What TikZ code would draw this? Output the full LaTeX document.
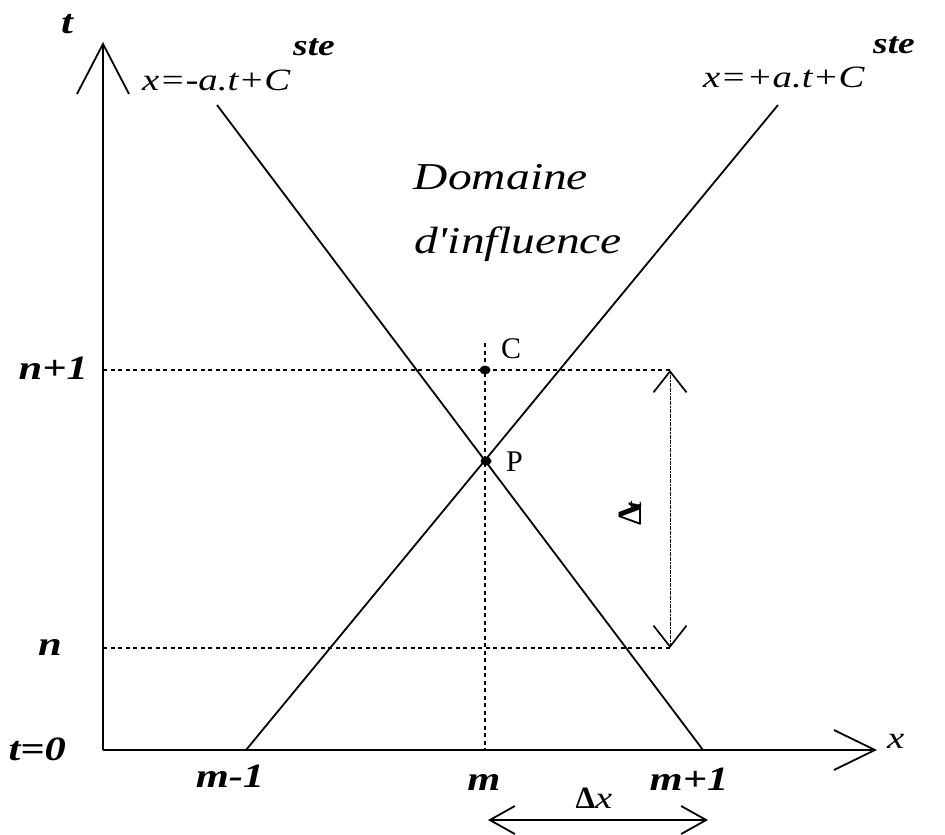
\documentclass[tikz,border=0pt]{standalone}
\usepackage{fontspec}
\setmainfont{Liberation Serif}
\newfontfamily\wideserif[FakeStretch=1.25]{Liberation Serif}
\usetikzlibrary{arrows.meta,shapes.geometric}
\tikzset{
  axisline/.style={line width=1.8pt},
  charline/.style={line width=1.8pt},
  dotline/.style={line width=1.3pt, dash pattern=on 4pt off 3.5pt},
  dimline/.style={line width=1pt, dash pattern=on 2pt off 0.6pt},
  lbl/.style={inner sep=0pt, font=\wideserif\fontsize{34}{38}\selectfont\bfseries\itshape},
  eqlbl/.style={inner sep=0pt, font=\wideserif\fontsize{31}{36}\selectfont\itshape},
  suplbl/.style={inner sep=0pt, font=\wideserif\fontsize{30}{34}\selectfont\bfseries\itshape},
  domlbl/.style={inner sep=0pt, font=\wideserif\fontsize{38}{42}\selectfont\itshape},
  ptlbl/.style={inner sep=0pt, font=\fontsize{30}{33}\selectfont},
  dot/.style={ellipse, fill=black, inner sep=0pt, minimum width=11pt, minimum height=9pt}
}
\begin{document}
\begin{tikzpicture}[x=1pt,y=-1pt]
\useasboundingbox (0,0) rectangle (945,835);
% axes
\coordinate (O) at (103,750);
\coordinate (ytop) at (103,42);
\coordinate (xend) at (877,750);
\draw[axisline, -{Straight Barb[length=50pt,width=52pt,line width=1.8pt]}] (O) -- (ytop);
\draw[axisline, -{Straight Barb[length=41pt,width=40pt,line width=1.8pt]}] (O) -- (xend);
% characteristic lines
\coordinate (dtop) at (217,105);
\coordinate (dbot) at (703,750);
\coordinate (atop) at (778,105);
\coordinate (abot) at (246,750);
\draw[charline] (dtop) -- (dbot);
\draw[charline] (abot) -- (atop);
% dotted guides
\coordinate (ya) at (103,370);
\coordinate (yb) at (103,648);
\coordinate (ra) at (670,370);
\coordinate (rb) at (670,648);
\coordinate (vtop) at (485,343);
\coordinate (vbot) at (485,750);
\draw[dotline] (ya) -- (ra);
\draw[dotline] (yb) -- (rb);
\draw[dotline] (vtop) -- (vbot);
% points
\node[dot] (C) at (485,370) {};
\node[dot] (P) at (486,461) {};
\node[ptlbl, anchor=base west] (Clbl) at (501,358) {C};
\node[ptlbl, anchor=base west] (Plbl) at (506,471) {P};
% delta t arrow
\draw[dimline, {Straight Barb[length=21pt,width=33pt,line width=1.7pt]}-{Straight Barb[length=21pt,width=33pt,line width=1.7pt]}] (ra) -- (rb);
\node[inner sep=0pt, rotate=90] (dt) at (630,514) {\fontsize{34}{36}\selectfont\bfseries Δ\kern-5pt{\wideserif\fontsize{22}{24}\selectfont\itshape t}};
% delta x arrow
\coordinate (dxl) at (488,820);
\coordinate (dxr) at (708,820);
\draw[line width=1.5pt, {Straight Barb[length=25pt,width=28pt,line width=1.8pt]}-{Straight Barb[length=25pt,width=28pt,line width=1.8pt]}] (dxl) -- (dxr);
\node[inner sep=0pt, anchor=base] (dx) at (594,808) {\fontsize{31}{34}\selectfont\bfseries Δ\wideserif\mdseries\itshape x};
% axis labels
\node[lbl, anchor=base] (tl) at (67,33) {t};
\node[eqlbl, anchor=base west] (xl) at (887,748) {x};
\node[lbl, anchor=base east] (np1) at (88,379) {n+1};
\node[lbl, anchor=base east] (nl) at (62,655) {n};
\node[lbl, anchor=base east] (t0) at (66,760) {t=0};
\node[lbl, anchor=base] (mm1) at (230,787) {m-1};
\node[lbl, anchor=base] (ml) at (484,790) {m};
\node[lbl, anchor=base] (mp1) at (689,790) {m+1};
% equations
\node[eqlbl, anchor=base west] (eq1) at (142,90) {x=-a.t+C};
\node[suplbl, anchor=base west] (s1) at (293,55) {ste};
\node[eqlbl, anchor=base west] (eq2) at (703,87) {x=+a.t+C};
\node[suplbl, anchor=base west] (s2) at (873,53) {ste};
% domain label
\node[domlbl, anchor=base] (dom1) at (501,189) {Domaine};
\node[domlbl, anchor=base] (dom2) at (518,253) {d'influence};
\end{tikzpicture}
\end{document}
